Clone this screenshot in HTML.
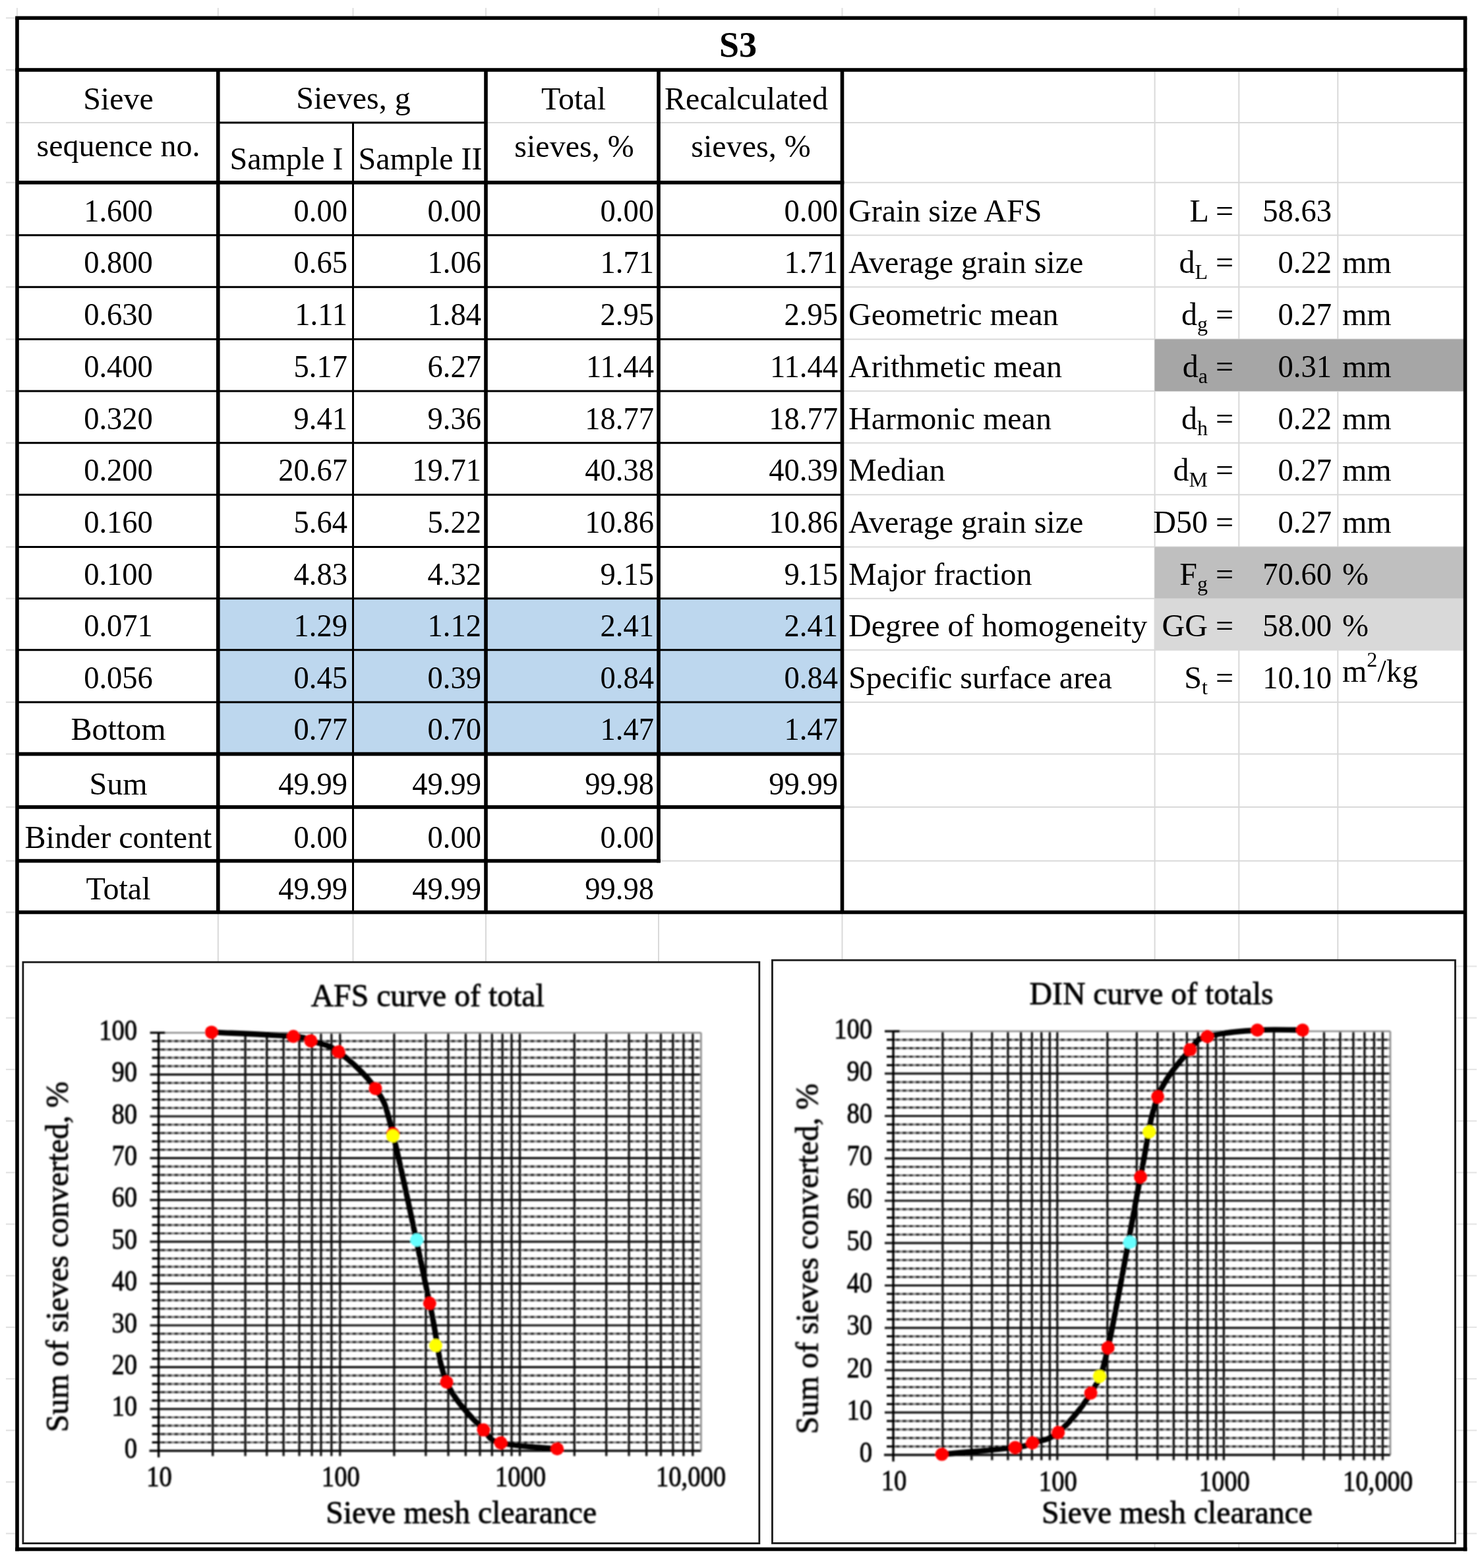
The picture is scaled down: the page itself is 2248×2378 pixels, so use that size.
<!DOCTYPE html>
<html><head><meta charset="utf-8"><title>S3 sieve analysis</title>
<style>html,body{margin:0;padding:0;background:#fff;} svg{display:block;}</style>
</head><body>
<svg width="2248" height="2378" viewBox="0 0 2248 2378">
<defs><filter id="soft" x="0" y="0" width="2248" height="2378" filterUnits="userSpaceOnUse"><feGaussianBlur stdDeviation="1.0"/></filter></defs>
<rect x="0.0" y="0.0" width="2248.0" height="2378.0" fill="#fff"/>
<rect x="1277.5" y="105.0" width="945.0" height="2.0" fill="#d9d9d9"/>
<rect x="1277.5" y="185.0" width="945.0" height="2.0" fill="#d9d9d9"/>
<rect x="1277.5" y="275.8" width="945.0" height="2.0" fill="#d9d9d9"/>
<rect x="1277.5" y="355.7" width="945.0" height="2.0" fill="#d9d9d9"/>
<rect x="1277.5" y="434.3" width="945.0" height="2.0" fill="#d9d9d9"/>
<rect x="1277.5" y="513.5" width="945.0" height="2.0" fill="#d9d9d9"/>
<rect x="1277.5" y="592.1" width="945.0" height="2.0" fill="#d9d9d9"/>
<rect x="1277.5" y="670.7" width="945.0" height="2.0" fill="#d9d9d9"/>
<rect x="1277.5" y="749.3" width="945.0" height="2.0" fill="#d9d9d9"/>
<rect x="1277.5" y="828.5" width="945.0" height="2.0" fill="#d9d9d9"/>
<rect x="1277.5" y="906.7" width="945.0" height="2.0" fill="#d9d9d9"/>
<rect x="1277.5" y="984.7" width="945.0" height="2.0" fill="#d9d9d9"/>
<rect x="1277.5" y="1063.9" width="945.0" height="2.0" fill="#d9d9d9"/>
<rect x="1277.5" y="1142.5" width="945.0" height="2.0" fill="#d9d9d9"/>
<rect x="1277.5" y="1223.0" width="945.0" height="2.0" fill="#d9d9d9"/>
<rect x="1277.5" y="1304.6" width="945.0" height="2.0" fill="#d9d9d9"/>
<rect x="1277.5" y="1382.5" width="945.0" height="2.0" fill="#d9d9d9"/>
<rect x="1750.6" y="106.0" width="2.0" height="2243.5" fill="#d9d9d9"/>
<rect x="1878.3" y="106.0" width="2.0" height="2243.5" fill="#d9d9d9"/>
<rect x="2028.3" y="106.0" width="2.0" height="2243.5" fill="#d9d9d9"/>
<rect x="329.8" y="1383.5" width="2.0" height="74.5" fill="#d9d9d9"/>
<rect x="534.5" y="1383.5" width="2.0" height="74.5" fill="#d9d9d9"/>
<rect x="736.0" y="1383.5" width="2.0" height="74.5" fill="#d9d9d9"/>
<rect x="998.0" y="1383.5" width="2.0" height="74.5" fill="#d9d9d9"/>
<rect x="1276.5" y="1383.5" width="2.0" height="74.5" fill="#d9d9d9"/>
<rect x="999.0" y="1304.6" width="278.5" height="2.0" fill="#d9d9d9"/>
<rect x="26.0" y="185.0" width="304.8" height="2.0" fill="#d9d9d9"/>
<rect x="737.0" y="185.0" width="540.5" height="2.0" fill="#d9d9d9"/>
<rect x="9.0" y="26.2" width="14.0" height="2.2" fill="#e2e2e2"/>
<rect x="9.0" y="104.9" width="14.0" height="2.2" fill="#e2e2e2"/>
<rect x="9.0" y="184.9" width="14.0" height="2.2" fill="#e2e2e2"/>
<rect x="9.0" y="275.7" width="14.0" height="2.2" fill="#e2e2e2"/>
<rect x="9.0" y="355.6" width="14.0" height="2.2" fill="#e2e2e2"/>
<rect x="9.0" y="434.2" width="14.0" height="2.2" fill="#e2e2e2"/>
<rect x="9.0" y="513.4" width="14.0" height="2.2" fill="#e2e2e2"/>
<rect x="9.0" y="592.0" width="14.0" height="2.2" fill="#e2e2e2"/>
<rect x="9.0" y="670.6" width="14.0" height="2.2" fill="#e2e2e2"/>
<rect x="9.0" y="749.2" width="14.0" height="2.2" fill="#e2e2e2"/>
<rect x="9.0" y="828.4" width="14.0" height="2.2" fill="#e2e2e2"/>
<rect x="9.0" y="906.6" width="14.0" height="2.2" fill="#e2e2e2"/>
<rect x="9.0" y="984.6" width="14.0" height="2.2" fill="#e2e2e2"/>
<rect x="9.0" y="1063.8" width="14.0" height="2.2" fill="#e2e2e2"/>
<rect x="9.0" y="1142.4" width="14.0" height="2.2" fill="#e2e2e2"/>
<rect x="9.0" y="1222.9" width="14.0" height="2.2" fill="#e2e2e2"/>
<rect x="9.0" y="1304.5" width="14.0" height="2.2" fill="#e2e2e2"/>
<rect x="9.0" y="1382.4" width="14.0" height="2.2" fill="#e2e2e2"/>
<rect x="9.0" y="1464.4" width="14.0" height="2.2" fill="#e2e2e2"/>
<rect x="9.0" y="1542.6" width="14.0" height="2.2" fill="#e2e2e2"/>
<rect x="9.0" y="1620.8" width="14.0" height="2.2" fill="#e2e2e2"/>
<rect x="9.0" y="1699.0" width="14.0" height="2.2" fill="#e2e2e2"/>
<rect x="9.0" y="1777.2" width="14.0" height="2.2" fill="#e2e2e2"/>
<rect x="9.0" y="1855.4" width="14.0" height="2.2" fill="#e2e2e2"/>
<rect x="9.0" y="1933.6" width="14.0" height="2.2" fill="#e2e2e2"/>
<rect x="9.0" y="2011.8" width="14.0" height="2.2" fill="#e2e2e2"/>
<rect x="9.0" y="2090.0" width="14.0" height="2.2" fill="#e2e2e2"/>
<rect x="9.0" y="2168.2" width="14.0" height="2.2" fill="#e2e2e2"/>
<rect x="9.0" y="2246.4" width="14.0" height="2.2" fill="#e2e2e2"/>
<rect x="9.0" y="2324.6" width="14.0" height="2.2" fill="#e2e2e2"/>
<rect x="2209.0" y="1464.4" width="31.0" height="2.2" fill="#e6e6e6"/>
<rect x="2209.0" y="1542.6" width="31.0" height="2.2" fill="#e6e6e6"/>
<rect x="2209.0" y="1620.8" width="31.0" height="2.2" fill="#e6e6e6"/>
<rect x="2209.0" y="1699.0" width="31.0" height="2.2" fill="#e6e6e6"/>
<rect x="2209.0" y="1777.2" width="31.0" height="2.2" fill="#e6e6e6"/>
<rect x="2209.0" y="1855.4" width="31.0" height="2.2" fill="#e6e6e6"/>
<rect x="2209.0" y="1933.6" width="31.0" height="2.2" fill="#e6e6e6"/>
<rect x="2209.0" y="2011.8" width="31.0" height="2.2" fill="#e6e6e6"/>
<rect x="2209.0" y="2090.0" width="31.0" height="2.2" fill="#e6e6e6"/>
<rect x="2209.0" y="2168.2" width="31.0" height="2.2" fill="#e6e6e6"/>
<rect x="2209.0" y="2246.4" width="31.0" height="2.2" fill="#e6e6e6"/>
<rect x="2209.0" y="2324.6" width="31.0" height="2.2" fill="#e6e6e6"/>
<rect x="24.9" y="12.0" width="2.2" height="12.3" fill="#e2e2e2"/>
<rect x="329.7" y="12.0" width="2.2" height="12.3" fill="#e2e2e2"/>
<rect x="534.4" y="12.0" width="2.2" height="12.3" fill="#e2e2e2"/>
<rect x="735.9" y="12.0" width="2.2" height="12.3" fill="#e2e2e2"/>
<rect x="997.9" y="12.0" width="2.2" height="12.3" fill="#e2e2e2"/>
<rect x="1276.4" y="12.0" width="2.2" height="12.3" fill="#e2e2e2"/>
<rect x="1750.5" y="12.0" width="2.2" height="12.3" fill="#e2e2e2"/>
<rect x="1878.2" y="12.0" width="2.2" height="12.3" fill="#e2e2e2"/>
<rect x="2028.2" y="12.0" width="2.2" height="12.3" fill="#e2e2e2"/>
<rect x="330.8" y="907.7" width="946.7" height="235.8" fill="#bdd7ee"/>
<rect x="1751.6" y="514.5" width="470.9" height="78.6" fill="#a6a6a6"/>
<rect x="1751.6" y="829.5" width="470.9" height="78.2" fill="#bfbfbf"/>
<rect x="1751.6" y="907.7" width="470.9" height="78.0" fill="#d9d9d9"/>
<rect x="23.2" y="24.5" width="2202.1" height="5.6" fill="#000"/>
<rect x="23.2" y="103.2" width="2202.1" height="5.6" fill="#000"/>
<rect x="23.2" y="2346.7" width="2202.1" height="5.6" fill="#000"/>
<rect x="23.2" y="27.3" width="5.6" height="2325.0" fill="#000"/>
<rect x="2219.7" y="27.3" width="5.6" height="2325.0" fill="#000"/>
<rect x="330.8" y="184.5" width="406.2" height="3.0" fill="#000"/>
<rect x="26.0" y="274.0" width="1254.3" height="5.6" fill="#000"/>
<rect x="328.0" y="106.0" width="5.6" height="1277.5" fill="#000"/>
<rect x="534.0" y="186.0" width="3.0" height="1197.5" fill="#000"/>
<rect x="734.2" y="106.0" width="5.6" height="1277.5" fill="#000"/>
<rect x="996.2" y="106.0" width="5.6" height="1202.4" fill="#000"/>
<rect x="1274.7" y="106.0" width="5.6" height="1277.5" fill="#000"/>
<rect x="26.0" y="355.2" width="1251.5" height="3.0" fill="#000"/>
<rect x="26.0" y="433.8" width="1251.5" height="3.0" fill="#000"/>
<rect x="26.0" y="513.0" width="1251.5" height="3.0" fill="#000"/>
<rect x="26.0" y="591.6" width="1251.5" height="3.0" fill="#000"/>
<rect x="26.0" y="670.2" width="1251.5" height="3.0" fill="#000"/>
<rect x="26.0" y="748.8" width="1251.5" height="3.0" fill="#000"/>
<rect x="26.0" y="828.0" width="1251.5" height="3.0" fill="#000"/>
<rect x="26.0" y="906.2" width="1251.5" height="3.0" fill="#000"/>
<rect x="26.0" y="984.2" width="1251.5" height="3.0" fill="#000"/>
<rect x="26.0" y="1063.4" width="1251.5" height="3.0" fill="#000"/>
<rect x="26.0" y="1140.7" width="1254.3" height="5.6" fill="#000"/>
<rect x="26.0" y="1221.2" width="1254.3" height="5.6" fill="#000"/>
<rect x="26.0" y="1302.8" width="975.8" height="5.6" fill="#000"/>
<rect x="26.0" y="1380.7" width="2196.5" height="5.6" fill="#000"/>
<g font-family='"Liberation Serif", "Times New Roman", serif' fill="#000">
<text x="1119.6" y="86.3" font-size="54" text-anchor="middle" font-weight="bold" >S3</text>
<text x="179.5" y="165.6" font-size="48" text-anchor="middle" font-weight="normal" >Sieve</text>
<text x="179.5" y="237.3" font-size="48" text-anchor="middle" font-weight="normal" >sequence no.</text>
<text x="536.0" y="164.5" font-size="48" text-anchor="middle" font-weight="normal" >Sieves, g</text>
<text x="434.5" y="256.6" font-size="48" text-anchor="middle" font-weight="normal" >Sample I</text>
<text x="637.5" y="256.6" font-size="48" text-anchor="middle" font-weight="normal" >Sample II</text>
<text x="870.0" y="165.6" font-size="48" text-anchor="middle" font-weight="normal" >Total</text>
<text x="871.0" y="237.5" font-size="48" text-anchor="middle" font-weight="normal" >sieves, %</text>
<text x="1132.0" y="165.6" font-size="48" text-anchor="middle" font-weight="normal" >Recalculated</text>
<text x="1139.0" y="237.5" font-size="48" text-anchor="middle" font-weight="normal" >sieves, %</text>
<text transform="translate(179.5,335.5) scale(0.97,1.0)" font-size="48" text-anchor="middle" font-weight="normal" >1.600</text>
<text transform="translate(527.0,335.5) scale(0.97,1.0)" font-size="48" text-anchor="end" font-weight="normal" >0.00</text>
<text transform="translate(730.0,335.5) scale(0.97,1.0)" font-size="48" text-anchor="end" font-weight="normal" >0.00</text>
<text transform="translate(992.0,335.5) scale(0.97,1.0)" font-size="48" text-anchor="end" font-weight="normal" >0.00</text>
<text transform="translate(1271.0,335.5) scale(0.97,1.0)" font-size="48" text-anchor="end" font-weight="normal" >0.00</text>
<text transform="translate(179.5,414.1) scale(0.97,1.0)" font-size="48" text-anchor="middle" font-weight="normal" >0.800</text>
<text transform="translate(527.0,414.1) scale(0.97,1.0)" font-size="48" text-anchor="end" font-weight="normal" >0.65</text>
<text transform="translate(730.0,414.1) scale(0.97,1.0)" font-size="48" text-anchor="end" font-weight="normal" >1.06</text>
<text transform="translate(992.0,414.1) scale(0.97,1.0)" font-size="48" text-anchor="end" font-weight="normal" >1.71</text>
<text transform="translate(1271.0,414.1) scale(0.97,1.0)" font-size="48" text-anchor="end" font-weight="normal" >1.71</text>
<text transform="translate(179.5,493.3) scale(0.97,1.0)" font-size="48" text-anchor="middle" font-weight="normal" >0.630</text>
<text transform="translate(527.0,493.3) scale(0.97,1.0)" font-size="48" text-anchor="end" font-weight="normal" >1.11</text>
<text transform="translate(730.0,493.3) scale(0.97,1.0)" font-size="48" text-anchor="end" font-weight="normal" >1.84</text>
<text transform="translate(992.0,493.3) scale(0.97,1.0)" font-size="48" text-anchor="end" font-weight="normal" >2.95</text>
<text transform="translate(1271.0,493.3) scale(0.97,1.0)" font-size="48" text-anchor="end" font-weight="normal" >2.95</text>
<text transform="translate(179.5,571.9) scale(0.97,1.0)" font-size="48" text-anchor="middle" font-weight="normal" >0.400</text>
<text transform="translate(527.0,571.9) scale(0.97,1.0)" font-size="48" text-anchor="end" font-weight="normal" >5.17</text>
<text transform="translate(730.0,571.9) scale(0.97,1.0)" font-size="48" text-anchor="end" font-weight="normal" >6.27</text>
<text transform="translate(992.0,571.9) scale(0.97,1.0)" font-size="48" text-anchor="end" font-weight="normal" >11.44</text>
<text transform="translate(1271.0,571.9) scale(0.97,1.0)" font-size="48" text-anchor="end" font-weight="normal" >11.44</text>
<text transform="translate(179.5,650.5) scale(0.97,1.0)" font-size="48" text-anchor="middle" font-weight="normal" >0.320</text>
<text transform="translate(527.0,650.5) scale(0.97,1.0)" font-size="48" text-anchor="end" font-weight="normal" >9.41</text>
<text transform="translate(730.0,650.5) scale(0.97,1.0)" font-size="48" text-anchor="end" font-weight="normal" >9.36</text>
<text transform="translate(992.0,650.5) scale(0.97,1.0)" font-size="48" text-anchor="end" font-weight="normal" >18.77</text>
<text transform="translate(1271.0,650.5) scale(0.97,1.0)" font-size="48" text-anchor="end" font-weight="normal" >18.77</text>
<text transform="translate(179.5,729.1) scale(0.97,1.0)" font-size="48" text-anchor="middle" font-weight="normal" >0.200</text>
<text transform="translate(527.0,729.1) scale(0.97,1.0)" font-size="48" text-anchor="end" font-weight="normal" >20.67</text>
<text transform="translate(730.0,729.1) scale(0.97,1.0)" font-size="48" text-anchor="end" font-weight="normal" >19.71</text>
<text transform="translate(992.0,729.1) scale(0.97,1.0)" font-size="48" text-anchor="end" font-weight="normal" >40.38</text>
<text transform="translate(1271.0,729.1) scale(0.97,1.0)" font-size="48" text-anchor="end" font-weight="normal" >40.39</text>
<text transform="translate(179.5,808.3) scale(0.97,1.0)" font-size="48" text-anchor="middle" font-weight="normal" >0.160</text>
<text transform="translate(527.0,808.3) scale(0.97,1.0)" font-size="48" text-anchor="end" font-weight="normal" >5.64</text>
<text transform="translate(730.0,808.3) scale(0.97,1.0)" font-size="48" text-anchor="end" font-weight="normal" >5.22</text>
<text transform="translate(992.0,808.3) scale(0.97,1.0)" font-size="48" text-anchor="end" font-weight="normal" >10.86</text>
<text transform="translate(1271.0,808.3) scale(0.97,1.0)" font-size="48" text-anchor="end" font-weight="normal" >10.86</text>
<text transform="translate(179.5,886.5) scale(0.97,1.0)" font-size="48" text-anchor="middle" font-weight="normal" >0.100</text>
<text transform="translate(527.0,886.5) scale(0.97,1.0)" font-size="48" text-anchor="end" font-weight="normal" >4.83</text>
<text transform="translate(730.0,886.5) scale(0.97,1.0)" font-size="48" text-anchor="end" font-weight="normal" >4.32</text>
<text transform="translate(992.0,886.5) scale(0.97,1.0)" font-size="48" text-anchor="end" font-weight="normal" >9.15</text>
<text transform="translate(1271.0,886.5) scale(0.97,1.0)" font-size="48" text-anchor="end" font-weight="normal" >9.15</text>
<text transform="translate(179.5,964.5) scale(0.97,1.0)" font-size="48" text-anchor="middle" font-weight="normal" >0.071</text>
<text transform="translate(527.0,964.5) scale(0.97,1.0)" font-size="48" text-anchor="end" font-weight="normal" >1.29</text>
<text transform="translate(730.0,964.5) scale(0.97,1.0)" font-size="48" text-anchor="end" font-weight="normal" >1.12</text>
<text transform="translate(992.0,964.5) scale(0.97,1.0)" font-size="48" text-anchor="end" font-weight="normal" >2.41</text>
<text transform="translate(1271.0,964.5) scale(0.97,1.0)" font-size="48" text-anchor="end" font-weight="normal" >2.41</text>
<text transform="translate(179.5,1043.7) scale(0.97,1.0)" font-size="48" text-anchor="middle" font-weight="normal" >0.056</text>
<text transform="translate(527.0,1043.7) scale(0.97,1.0)" font-size="48" text-anchor="end" font-weight="normal" >0.45</text>
<text transform="translate(730.0,1043.7) scale(0.97,1.0)" font-size="48" text-anchor="end" font-weight="normal" >0.39</text>
<text transform="translate(992.0,1043.7) scale(0.97,1.0)" font-size="48" text-anchor="end" font-weight="normal" >0.84</text>
<text transform="translate(1271.0,1043.7) scale(0.97,1.0)" font-size="48" text-anchor="end" font-weight="normal" >0.84</text>
<text x="179.5" y="1122.3" font-size="48" text-anchor="middle" font-weight="normal" >Bottom</text>
<text transform="translate(527.0,1122.3) scale(0.97,1.0)" font-size="48" text-anchor="end" font-weight="normal" >0.77</text>
<text transform="translate(730.0,1122.3) scale(0.97,1.0)" font-size="48" text-anchor="end" font-weight="normal" >0.70</text>
<text transform="translate(992.0,1122.3) scale(0.97,1.0)" font-size="48" text-anchor="end" font-weight="normal" >1.47</text>
<text transform="translate(1271.0,1122.3) scale(0.97,1.0)" font-size="48" text-anchor="end" font-weight="normal" >1.47</text>
<text x="179.5" y="1204.5" font-size="48" text-anchor="middle" font-weight="normal" >Sum</text>
<text transform="translate(527.0,1204.5) scale(0.97,1.0)" font-size="48" text-anchor="end" font-weight="normal" >49.99</text>
<text transform="translate(730.0,1204.5) scale(0.97,1.0)" font-size="48" text-anchor="end" font-weight="normal" >49.99</text>
<text transform="translate(992.0,1204.5) scale(0.97,1.0)" font-size="48" text-anchor="end" font-weight="normal" >99.98</text>
<text transform="translate(1271.0,1204.5) scale(0.97,1.0)" font-size="48" text-anchor="end" font-weight="normal" >99.99</text>
<text x="179.5" y="1286.1" font-size="48" text-anchor="middle" font-weight="normal" >Binder content</text>
<text transform="translate(527.0,1286.1) scale(0.97,1.0)" font-size="48" text-anchor="end" font-weight="normal" >0.00</text>
<text transform="translate(730.0,1286.1) scale(0.97,1.0)" font-size="48" text-anchor="end" font-weight="normal" >0.00</text>
<text transform="translate(992.0,1286.1) scale(0.97,1.0)" font-size="48" text-anchor="end" font-weight="normal" >0.00</text>
<text x="179.5" y="1364.0" font-size="48" text-anchor="middle" font-weight="normal" >Total</text>
<text transform="translate(527.0,1364.0) scale(0.97,1.0)" font-size="48" text-anchor="end" font-weight="normal" >49.99</text>
<text transform="translate(730.0,1364.0) scale(0.97,1.0)" font-size="48" text-anchor="end" font-weight="normal" >49.99</text>
<text transform="translate(992.0,1364.0) scale(0.97,1.0)" font-size="48" text-anchor="end" font-weight="normal" >99.98</text>
<text x="1287.0" y="335.5" font-size="48" text-anchor="start" font-weight="normal" >Grain size AFS</text>
<text x="1871.0" y="335.5" font-size="48" text-anchor="end" font-weight="normal" >L =</text>
<text transform="translate(2020.0,335.5) scale(0.97,1.0)" font-size="48" text-anchor="end" font-weight="normal" >58.63</text>
<text x="1287.0" y="414.1" font-size="48" text-anchor="start" font-weight="normal" >Average grain size</text>
<text x="1871.0" y="414.1" font-size="48" text-anchor="end" font-weight="normal" >d<tspan font-size="32" dy="9">L</tspan><tspan dy="-9"> =</tspan></text>
<text transform="translate(2020.0,414.1) scale(0.97,1.0)" font-size="48" text-anchor="end" font-weight="normal" >0.22</text>
<text x="2036.0" y="414.1" font-size="48" text-anchor="start" font-weight="normal" >mm</text>
<text x="1287.0" y="493.3" font-size="48" text-anchor="start" font-weight="normal" >Geometric mean</text>
<text x="1871.0" y="493.3" font-size="48" text-anchor="end" font-weight="normal" >d<tspan font-size="32" dy="9">g</tspan><tspan dy="-9"> =</tspan></text>
<text transform="translate(2020.0,493.3) scale(0.97,1.0)" font-size="48" text-anchor="end" font-weight="normal" >0.27</text>
<text x="2036.0" y="493.3" font-size="48" text-anchor="start" font-weight="normal" >mm</text>
<text x="1287.0" y="571.9" font-size="48" text-anchor="start" font-weight="normal" >Arithmetic mean</text>
<text x="1871.0" y="571.9" font-size="48" text-anchor="end" font-weight="normal" >d<tspan font-size="32" dy="9">a</tspan><tspan dy="-9"> =</tspan></text>
<text transform="translate(2020.0,571.9) scale(0.97,1.0)" font-size="48" text-anchor="end" font-weight="normal" >0.31</text>
<text x="2036.0" y="571.9" font-size="48" text-anchor="start" font-weight="normal" >mm</text>
<text x="1287.0" y="650.5" font-size="48" text-anchor="start" font-weight="normal" >Harmonic mean</text>
<text x="1871.0" y="650.5" font-size="48" text-anchor="end" font-weight="normal" >d<tspan font-size="32" dy="9">h</tspan><tspan dy="-9"> =</tspan></text>
<text transform="translate(2020.0,650.5) scale(0.97,1.0)" font-size="48" text-anchor="end" font-weight="normal" >0.22</text>
<text x="2036.0" y="650.5" font-size="48" text-anchor="start" font-weight="normal" >mm</text>
<text x="1287.0" y="729.1" font-size="48" text-anchor="start" font-weight="normal" >Median</text>
<text x="1871.0" y="729.1" font-size="48" text-anchor="end" font-weight="normal" >d<tspan font-size="32" dy="9">M</tspan><tspan dy="-9"> =</tspan></text>
<text transform="translate(2020.0,729.1) scale(0.97,1.0)" font-size="48" text-anchor="end" font-weight="normal" >0.27</text>
<text x="2036.0" y="729.1" font-size="48" text-anchor="start" font-weight="normal" >mm</text>
<text x="1287.0" y="808.3" font-size="48" text-anchor="start" font-weight="normal" >Average grain size</text>
<text x="1871.0" y="808.3" font-size="48" text-anchor="end" font-weight="normal" >D50 =</text>
<text transform="translate(2020.0,808.3) scale(0.97,1.0)" font-size="48" text-anchor="end" font-weight="normal" >0.27</text>
<text x="2036.0" y="808.3" font-size="48" text-anchor="start" font-weight="normal" >mm</text>
<text x="1287.0" y="886.5" font-size="48" text-anchor="start" font-weight="normal" >Major fraction</text>
<text x="1871.0" y="886.5" font-size="48" text-anchor="end" font-weight="normal" >F<tspan font-size="32" dy="9">g</tspan><tspan dy="-9"> =</tspan></text>
<text transform="translate(2020.0,886.5) scale(0.97,1.0)" font-size="48" text-anchor="end" font-weight="normal" >70.60</text>
<text x="2036.0" y="886.5" font-size="48" text-anchor="start" font-weight="normal" >%</text>
<text x="1287.0" y="964.5" font-size="48" text-anchor="start" font-weight="normal" >Degree of homogeneity</text>
<text x="1871.0" y="964.5" font-size="48" text-anchor="end" font-weight="normal" >GG =</text>
<text transform="translate(2020.0,964.5) scale(0.97,1.0)" font-size="48" text-anchor="end" font-weight="normal" >58.00</text>
<text x="2036.0" y="964.5" font-size="48" text-anchor="start" font-weight="normal" >%</text>
<text x="1287.0" y="1043.7" font-size="48" text-anchor="start" font-weight="normal" >Specific surface area</text>
<text x="1871.0" y="1043.7" font-size="48" text-anchor="end" font-weight="normal" >S<tspan font-size="32" dy="9">t</tspan><tspan dy="-9"> =</tspan></text>
<text transform="translate(2020.0,1043.7) scale(0.97,1.0)" font-size="48" text-anchor="end" font-weight="normal" >10.10</text>
<text x="2036.0" y="1033.9" font-size="48" text-anchor="start" font-weight="normal" >m<tspan font-size="32" dy="-23">2</tspan><tspan dy="23">/kg</tspan></text>
</g>
<rect x="34.9" y="1459.2" width="1116.8999999999999" height="881.3999999999999" fill="#fff" stroke="#1a1a1a" stroke-width="2.8"/>
<g filter="url(#soft)">
<line x1="242.6" y1="2187.5" x2="1063.4" y2="2187.5" stroke="#8a8a8a" stroke-width="3.2"/>
<line x1="244.6" y1="2187.5" x2="1063.4" y2="2187.5" stroke="#2a2a2a" stroke-width="3.2" stroke-dasharray="5.6 4.4"/>
<line x1="230.6" y1="2187.5" x2="243.6" y2="2187.5" stroke="#000" stroke-width="3.2"/>
<line x1="242.6" y1="2174.8" x2="1063.4" y2="2174.8" stroke="#8a8a8a" stroke-width="3.2"/>
<line x1="244.6" y1="2174.8" x2="1063.4" y2="2174.8" stroke="#2a2a2a" stroke-width="3.2" stroke-dasharray="5.6 4.4"/>
<line x1="230.6" y1="2174.8" x2="243.6" y2="2174.8" stroke="#000" stroke-width="3.2"/>
<line x1="242.6" y1="2162.2" x2="1063.4" y2="2162.2" stroke="#8a8a8a" stroke-width="3.2"/>
<line x1="244.6" y1="2162.2" x2="1063.4" y2="2162.2" stroke="#2a2a2a" stroke-width="3.2" stroke-dasharray="5.6 4.4"/>
<line x1="230.6" y1="2162.2" x2="243.6" y2="2162.2" stroke="#000" stroke-width="3.2"/>
<line x1="242.6" y1="2149.5" x2="1063.4" y2="2149.5" stroke="#8a8a8a" stroke-width="3.2"/>
<line x1="244.6" y1="2149.5" x2="1063.4" y2="2149.5" stroke="#2a2a2a" stroke-width="3.2" stroke-dasharray="5.6 4.4"/>
<line x1="230.6" y1="2149.5" x2="243.6" y2="2149.5" stroke="#000" stroke-width="3.2"/>
<line x1="242.6" y1="2124.1" x2="1063.4" y2="2124.1" stroke="#8a8a8a" stroke-width="3.2"/>
<line x1="244.6" y1="2124.1" x2="1063.4" y2="2124.1" stroke="#2a2a2a" stroke-width="3.2" stroke-dasharray="5.6 4.4"/>
<line x1="230.6" y1="2124.1" x2="243.6" y2="2124.1" stroke="#000" stroke-width="3.2"/>
<line x1="242.6" y1="2111.4" x2="1063.4" y2="2111.4" stroke="#8a8a8a" stroke-width="3.2"/>
<line x1="244.6" y1="2111.4" x2="1063.4" y2="2111.4" stroke="#2a2a2a" stroke-width="3.2" stroke-dasharray="5.6 4.4"/>
<line x1="230.6" y1="2111.4" x2="243.6" y2="2111.4" stroke="#000" stroke-width="3.2"/>
<line x1="242.6" y1="2098.8" x2="1063.4" y2="2098.8" stroke="#8a8a8a" stroke-width="3.2"/>
<line x1="244.6" y1="2098.8" x2="1063.4" y2="2098.8" stroke="#2a2a2a" stroke-width="3.2" stroke-dasharray="5.6 4.4"/>
<line x1="230.6" y1="2098.8" x2="243.6" y2="2098.8" stroke="#000" stroke-width="3.2"/>
<line x1="242.6" y1="2086.1" x2="1063.4" y2="2086.1" stroke="#8a8a8a" stroke-width="3.2"/>
<line x1="244.6" y1="2086.1" x2="1063.4" y2="2086.1" stroke="#2a2a2a" stroke-width="3.2" stroke-dasharray="5.6 4.4"/>
<line x1="230.6" y1="2086.1" x2="243.6" y2="2086.1" stroke="#000" stroke-width="3.2"/>
<line x1="242.6" y1="2060.7" x2="1063.4" y2="2060.7" stroke="#8a8a8a" stroke-width="3.2"/>
<line x1="244.6" y1="2060.7" x2="1063.4" y2="2060.7" stroke="#2a2a2a" stroke-width="3.2" stroke-dasharray="5.6 4.4"/>
<line x1="230.6" y1="2060.7" x2="243.6" y2="2060.7" stroke="#000" stroke-width="3.2"/>
<line x1="242.6" y1="2048.0" x2="1063.4" y2="2048.0" stroke="#8a8a8a" stroke-width="3.2"/>
<line x1="244.6" y1="2048.0" x2="1063.4" y2="2048.0" stroke="#2a2a2a" stroke-width="3.2" stroke-dasharray="5.6 4.4"/>
<line x1="230.6" y1="2048.0" x2="243.6" y2="2048.0" stroke="#000" stroke-width="3.2"/>
<line x1="242.6" y1="2035.4" x2="1063.4" y2="2035.4" stroke="#8a8a8a" stroke-width="3.2"/>
<line x1="244.6" y1="2035.4" x2="1063.4" y2="2035.4" stroke="#2a2a2a" stroke-width="3.2" stroke-dasharray="5.6 4.4"/>
<line x1="230.6" y1="2035.4" x2="243.6" y2="2035.4" stroke="#000" stroke-width="3.2"/>
<line x1="242.6" y1="2022.7" x2="1063.4" y2="2022.7" stroke="#8a8a8a" stroke-width="3.2"/>
<line x1="244.6" y1="2022.7" x2="1063.4" y2="2022.7" stroke="#2a2a2a" stroke-width="3.2" stroke-dasharray="5.6 4.4"/>
<line x1="230.6" y1="2022.7" x2="243.6" y2="2022.7" stroke="#000" stroke-width="3.2"/>
<line x1="242.6" y1="1997.3" x2="1063.4" y2="1997.3" stroke="#8a8a8a" stroke-width="3.2"/>
<line x1="244.6" y1="1997.3" x2="1063.4" y2="1997.3" stroke="#2a2a2a" stroke-width="3.2" stroke-dasharray="5.6 4.4"/>
<line x1="230.6" y1="1997.3" x2="243.6" y2="1997.3" stroke="#000" stroke-width="3.2"/>
<line x1="242.6" y1="1984.6" x2="1063.4" y2="1984.6" stroke="#8a8a8a" stroke-width="3.2"/>
<line x1="244.6" y1="1984.6" x2="1063.4" y2="1984.6" stroke="#2a2a2a" stroke-width="3.2" stroke-dasharray="5.6 4.4"/>
<line x1="230.6" y1="1984.6" x2="243.6" y2="1984.6" stroke="#000" stroke-width="3.2"/>
<line x1="242.6" y1="1972.0" x2="1063.4" y2="1972.0" stroke="#8a8a8a" stroke-width="3.2"/>
<line x1="244.6" y1="1972.0" x2="1063.4" y2="1972.0" stroke="#2a2a2a" stroke-width="3.2" stroke-dasharray="5.6 4.4"/>
<line x1="230.6" y1="1972.0" x2="243.6" y2="1972.0" stroke="#000" stroke-width="3.2"/>
<line x1="242.6" y1="1959.3" x2="1063.4" y2="1959.3" stroke="#8a8a8a" stroke-width="3.2"/>
<line x1="244.6" y1="1959.3" x2="1063.4" y2="1959.3" stroke="#2a2a2a" stroke-width="3.2" stroke-dasharray="5.6 4.4"/>
<line x1="230.6" y1="1959.3" x2="243.6" y2="1959.3" stroke="#000" stroke-width="3.2"/>
<line x1="242.6" y1="1933.9" x2="1063.4" y2="1933.9" stroke="#8a8a8a" stroke-width="3.2"/>
<line x1="244.6" y1="1933.9" x2="1063.4" y2="1933.9" stroke="#2a2a2a" stroke-width="3.2" stroke-dasharray="5.6 4.4"/>
<line x1="230.6" y1="1933.9" x2="243.6" y2="1933.9" stroke="#000" stroke-width="3.2"/>
<line x1="242.6" y1="1921.2" x2="1063.4" y2="1921.2" stroke="#8a8a8a" stroke-width="3.2"/>
<line x1="244.6" y1="1921.2" x2="1063.4" y2="1921.2" stroke="#2a2a2a" stroke-width="3.2" stroke-dasharray="5.6 4.4"/>
<line x1="230.6" y1="1921.2" x2="243.6" y2="1921.2" stroke="#000" stroke-width="3.2"/>
<line x1="242.6" y1="1908.6" x2="1063.4" y2="1908.6" stroke="#8a8a8a" stroke-width="3.2"/>
<line x1="244.6" y1="1908.6" x2="1063.4" y2="1908.6" stroke="#2a2a2a" stroke-width="3.2" stroke-dasharray="5.6 4.4"/>
<line x1="230.6" y1="1908.6" x2="243.6" y2="1908.6" stroke="#000" stroke-width="3.2"/>
<line x1="242.6" y1="1895.9" x2="1063.4" y2="1895.9" stroke="#8a8a8a" stroke-width="3.2"/>
<line x1="244.6" y1="1895.9" x2="1063.4" y2="1895.9" stroke="#2a2a2a" stroke-width="3.2" stroke-dasharray="5.6 4.4"/>
<line x1="230.6" y1="1895.9" x2="243.6" y2="1895.9" stroke="#000" stroke-width="3.2"/>
<line x1="242.6" y1="1870.5" x2="1063.4" y2="1870.5" stroke="#8a8a8a" stroke-width="3.2"/>
<line x1="244.6" y1="1870.5" x2="1063.4" y2="1870.5" stroke="#2a2a2a" stroke-width="3.2" stroke-dasharray="5.6 4.4"/>
<line x1="230.6" y1="1870.5" x2="243.6" y2="1870.5" stroke="#000" stroke-width="3.2"/>
<line x1="242.6" y1="1857.8" x2="1063.4" y2="1857.8" stroke="#8a8a8a" stroke-width="3.2"/>
<line x1="244.6" y1="1857.8" x2="1063.4" y2="1857.8" stroke="#2a2a2a" stroke-width="3.2" stroke-dasharray="5.6 4.4"/>
<line x1="230.6" y1="1857.8" x2="243.6" y2="1857.8" stroke="#000" stroke-width="3.2"/>
<line x1="242.6" y1="1845.2" x2="1063.4" y2="1845.2" stroke="#8a8a8a" stroke-width="3.2"/>
<line x1="244.6" y1="1845.2" x2="1063.4" y2="1845.2" stroke="#2a2a2a" stroke-width="3.2" stroke-dasharray="5.6 4.4"/>
<line x1="230.6" y1="1845.2" x2="243.6" y2="1845.2" stroke="#000" stroke-width="3.2"/>
<line x1="242.6" y1="1832.5" x2="1063.4" y2="1832.5" stroke="#8a8a8a" stroke-width="3.2"/>
<line x1="244.6" y1="1832.5" x2="1063.4" y2="1832.5" stroke="#2a2a2a" stroke-width="3.2" stroke-dasharray="5.6 4.4"/>
<line x1="230.6" y1="1832.5" x2="243.6" y2="1832.5" stroke="#000" stroke-width="3.2"/>
<line x1="242.6" y1="1807.1" x2="1063.4" y2="1807.1" stroke="#8a8a8a" stroke-width="3.2"/>
<line x1="244.6" y1="1807.1" x2="1063.4" y2="1807.1" stroke="#2a2a2a" stroke-width="3.2" stroke-dasharray="5.6 4.4"/>
<line x1="230.6" y1="1807.1" x2="243.6" y2="1807.1" stroke="#000" stroke-width="3.2"/>
<line x1="242.6" y1="1794.4" x2="1063.4" y2="1794.4" stroke="#8a8a8a" stroke-width="3.2"/>
<line x1="244.6" y1="1794.4" x2="1063.4" y2="1794.4" stroke="#2a2a2a" stroke-width="3.2" stroke-dasharray="5.6 4.4"/>
<line x1="230.6" y1="1794.4" x2="243.6" y2="1794.4" stroke="#000" stroke-width="3.2"/>
<line x1="242.6" y1="1781.8" x2="1063.4" y2="1781.8" stroke="#8a8a8a" stroke-width="3.2"/>
<line x1="244.6" y1="1781.8" x2="1063.4" y2="1781.8" stroke="#2a2a2a" stroke-width="3.2" stroke-dasharray="5.6 4.4"/>
<line x1="230.6" y1="1781.8" x2="243.6" y2="1781.8" stroke="#000" stroke-width="3.2"/>
<line x1="242.6" y1="1769.1" x2="1063.4" y2="1769.1" stroke="#8a8a8a" stroke-width="3.2"/>
<line x1="244.6" y1="1769.1" x2="1063.4" y2="1769.1" stroke="#2a2a2a" stroke-width="3.2" stroke-dasharray="5.6 4.4"/>
<line x1="230.6" y1="1769.1" x2="243.6" y2="1769.1" stroke="#000" stroke-width="3.2"/>
<line x1="242.6" y1="1743.7" x2="1063.4" y2="1743.7" stroke="#8a8a8a" stroke-width="3.2"/>
<line x1="244.6" y1="1743.7" x2="1063.4" y2="1743.7" stroke="#2a2a2a" stroke-width="3.2" stroke-dasharray="5.6 4.4"/>
<line x1="230.6" y1="1743.7" x2="243.6" y2="1743.7" stroke="#000" stroke-width="3.2"/>
<line x1="242.6" y1="1731.0" x2="1063.4" y2="1731.0" stroke="#8a8a8a" stroke-width="3.2"/>
<line x1="244.6" y1="1731.0" x2="1063.4" y2="1731.0" stroke="#2a2a2a" stroke-width="3.2" stroke-dasharray="5.6 4.4"/>
<line x1="230.6" y1="1731.0" x2="243.6" y2="1731.0" stroke="#000" stroke-width="3.2"/>
<line x1="242.6" y1="1718.4" x2="1063.4" y2="1718.4" stroke="#8a8a8a" stroke-width="3.2"/>
<line x1="244.6" y1="1718.4" x2="1063.4" y2="1718.4" stroke="#2a2a2a" stroke-width="3.2" stroke-dasharray="5.6 4.4"/>
<line x1="230.6" y1="1718.4" x2="243.6" y2="1718.4" stroke="#000" stroke-width="3.2"/>
<line x1="242.6" y1="1705.7" x2="1063.4" y2="1705.7" stroke="#8a8a8a" stroke-width="3.2"/>
<line x1="244.6" y1="1705.7" x2="1063.4" y2="1705.7" stroke="#2a2a2a" stroke-width="3.2" stroke-dasharray="5.6 4.4"/>
<line x1="230.6" y1="1705.7" x2="243.6" y2="1705.7" stroke="#000" stroke-width="3.2"/>
<line x1="242.6" y1="1680.3" x2="1063.4" y2="1680.3" stroke="#8a8a8a" stroke-width="3.2"/>
<line x1="244.6" y1="1680.3" x2="1063.4" y2="1680.3" stroke="#2a2a2a" stroke-width="3.2" stroke-dasharray="5.6 4.4"/>
<line x1="230.6" y1="1680.3" x2="243.6" y2="1680.3" stroke="#000" stroke-width="3.2"/>
<line x1="242.6" y1="1667.6" x2="1063.4" y2="1667.6" stroke="#8a8a8a" stroke-width="3.2"/>
<line x1="244.6" y1="1667.6" x2="1063.4" y2="1667.6" stroke="#2a2a2a" stroke-width="3.2" stroke-dasharray="5.6 4.4"/>
<line x1="230.6" y1="1667.6" x2="243.6" y2="1667.6" stroke="#000" stroke-width="3.2"/>
<line x1="242.6" y1="1655.0" x2="1063.4" y2="1655.0" stroke="#8a8a8a" stroke-width="3.2"/>
<line x1="244.6" y1="1655.0" x2="1063.4" y2="1655.0" stroke="#2a2a2a" stroke-width="3.2" stroke-dasharray="5.6 4.4"/>
<line x1="230.6" y1="1655.0" x2="243.6" y2="1655.0" stroke="#000" stroke-width="3.2"/>
<line x1="242.6" y1="1642.3" x2="1063.4" y2="1642.3" stroke="#8a8a8a" stroke-width="3.2"/>
<line x1="244.6" y1="1642.3" x2="1063.4" y2="1642.3" stroke="#2a2a2a" stroke-width="3.2" stroke-dasharray="5.6 4.4"/>
<line x1="230.6" y1="1642.3" x2="243.6" y2="1642.3" stroke="#000" stroke-width="3.2"/>
<line x1="242.6" y1="1616.9" x2="1063.4" y2="1616.9" stroke="#8a8a8a" stroke-width="3.2"/>
<line x1="244.6" y1="1616.9" x2="1063.4" y2="1616.9" stroke="#2a2a2a" stroke-width="3.2" stroke-dasharray="5.6 4.4"/>
<line x1="230.6" y1="1616.9" x2="243.6" y2="1616.9" stroke="#000" stroke-width="3.2"/>
<line x1="242.6" y1="1604.2" x2="1063.4" y2="1604.2" stroke="#8a8a8a" stroke-width="3.2"/>
<line x1="244.6" y1="1604.2" x2="1063.4" y2="1604.2" stroke="#2a2a2a" stroke-width="3.2" stroke-dasharray="5.6 4.4"/>
<line x1="230.6" y1="1604.2" x2="243.6" y2="1604.2" stroke="#000" stroke-width="3.2"/>
<line x1="242.6" y1="1591.6" x2="1063.4" y2="1591.6" stroke="#8a8a8a" stroke-width="3.2"/>
<line x1="244.6" y1="1591.6" x2="1063.4" y2="1591.6" stroke="#2a2a2a" stroke-width="3.2" stroke-dasharray="5.6 4.4"/>
<line x1="230.6" y1="1591.6" x2="243.6" y2="1591.6" stroke="#000" stroke-width="3.2"/>
<line x1="242.6" y1="1578.9" x2="1063.4" y2="1578.9" stroke="#8a8a8a" stroke-width="3.2"/>
<line x1="244.6" y1="1578.9" x2="1063.4" y2="1578.9" stroke="#2a2a2a" stroke-width="3.2" stroke-dasharray="5.6 4.4"/>
<line x1="230.6" y1="1578.9" x2="243.6" y2="1578.9" stroke="#000" stroke-width="3.2"/>
<line x1="322.7" y1="1566.2" x2="322.7" y2="2208.2" stroke="#111" stroke-width="3.3"/>
<line x1="372.1" y1="1566.2" x2="372.1" y2="2208.2" stroke="#111" stroke-width="3.3"/>
<line x1="404.7" y1="1566.2" x2="404.7" y2="2208.2" stroke="#111" stroke-width="3.3"/>
<line x1="430.1" y1="1566.2" x2="430.1" y2="2208.2" stroke="#111" stroke-width="3.3"/>
<line x1="454.0" y1="1566.2" x2="454.0" y2="2208.2" stroke="#111" stroke-width="3.3"/>
<line x1="473.1" y1="1566.2" x2="473.1" y2="2208.2" stroke="#111" stroke-width="3.3"/>
<line x1="486.9" y1="1566.2" x2="486.9" y2="2208.2" stroke="#111" stroke-width="3.3"/>
<line x1="502.8" y1="1566.2" x2="502.8" y2="2208.2" stroke="#111" stroke-width="3.3"/>
<line x1="515.8" y1="1566.2" x2="515.8" y2="2208.2" stroke="#111" stroke-width="3.3"/>
<line x1="597.9" y1="1566.2" x2="597.9" y2="2208.2" stroke="#111" stroke-width="3.3"/>
<line x1="645.9" y1="1566.2" x2="645.9" y2="2208.2" stroke="#111" stroke-width="3.3"/>
<line x1="680.0" y1="1566.2" x2="680.0" y2="2208.2" stroke="#111" stroke-width="3.3"/>
<line x1="706.4" y1="1566.2" x2="706.4" y2="2208.2" stroke="#111" stroke-width="3.3"/>
<line x1="728.0" y1="1566.2" x2="728.0" y2="2208.2" stroke="#111" stroke-width="3.3"/>
<line x1="746.3" y1="1566.2" x2="746.3" y2="2208.2" stroke="#111" stroke-width="3.3"/>
<line x1="762.1" y1="1566.2" x2="762.1" y2="2208.2" stroke="#111" stroke-width="3.3"/>
<line x1="776.0" y1="1566.2" x2="776.0" y2="2208.2" stroke="#111" stroke-width="3.3"/>
<line x1="788.5" y1="1566.2" x2="788.5" y2="2208.2" stroke="#111" stroke-width="3.3"/>
<line x1="871.3" y1="1566.2" x2="871.3" y2="2208.2" stroke="#111" stroke-width="3.3"/>
<line x1="919.7" y1="1566.2" x2="919.7" y2="2208.2" stroke="#111" stroke-width="3.3"/>
<line x1="954.0" y1="1566.2" x2="954.0" y2="2208.2" stroke="#111" stroke-width="3.3"/>
<line x1="980.6" y1="1566.2" x2="980.6" y2="2208.2" stroke="#111" stroke-width="3.3"/>
<line x1="1002.4" y1="1566.2" x2="1002.4" y2="2208.2" stroke="#111" stroke-width="3.3"/>
<line x1="1020.8" y1="1566.2" x2="1020.8" y2="2208.2" stroke="#111" stroke-width="3.3"/>
<line x1="1036.8" y1="1566.2" x2="1036.8" y2="2208.2" stroke="#111" stroke-width="3.3"/>
<line x1="1050.8" y1="1566.2" x2="1050.8" y2="2208.2" stroke="#111" stroke-width="3.3"/>
<line x1="227.6" y1="2136.8" x2="1063.4" y2="2136.8" stroke="#111" stroke-width="3.2"/>
<line x1="227.6" y1="2073.4" x2="1063.4" y2="2073.4" stroke="#111" stroke-width="3.2"/>
<line x1="227.6" y1="2010.0" x2="1063.4" y2="2010.0" stroke="#111" stroke-width="3.2"/>
<line x1="227.6" y1="1946.6" x2="1063.4" y2="1946.6" stroke="#111" stroke-width="3.2"/>
<line x1="227.6" y1="1883.2" x2="1063.4" y2="1883.2" stroke="#111" stroke-width="3.2"/>
<line x1="227.6" y1="1819.8" x2="1063.4" y2="1819.8" stroke="#111" stroke-width="3.2"/>
<line x1="227.6" y1="1756.4" x2="1063.4" y2="1756.4" stroke="#111" stroke-width="3.2"/>
<line x1="227.6" y1="1693.0" x2="1063.4" y2="1693.0" stroke="#111" stroke-width="3.2"/>
<line x1="227.6" y1="1629.6" x2="1063.4" y2="1629.6" stroke="#111" stroke-width="3.2"/>
<line x1="240.6" y1="1566.2" x2="1063.4" y2="1566.2" stroke="#8c8c8c" stroke-width="2.6"/>
<line x1="1063.4" y1="1566.2" x2="1063.4" y2="2200.2" stroke="#8c8c8c" stroke-width="2.6"/>
<line x1="227.6" y1="1566.2" x2="250.6" y2="1566.2" stroke="#000" stroke-width="3.2"/>
<line x1="226.6" y1="2200.2" x2="1063.4" y2="2200.2" stroke="#111" stroke-width="3.4"/>
<line x1="240.6" y1="1566.2" x2="240.6" y2="2210.2" stroke="#000" stroke-width="3.4"/>
<path d="M320.8,1565.4 C341.5,1566.5 419.9,1569.5 445.0,1571.7 C470.1,1573.9 459.8,1574.5 471.3,1578.4 C482.8,1582.3 497.4,1583.2 513.8,1595.3 C530.2,1607.4 555.8,1630.2 569.5,1650.9 C583.2,1671.6 582.3,1665.2 596.0,1719.5 C609.7,1773.8 638.2,1913.8 651.8,1976.6 C665.4,2039.3 663.9,2064.0 677.5,2096.0 C691.1,2128.0 719.7,2153.2 733.4,2168.6 C747.1,2184.0 741.1,2183.4 759.7,2188.2 C778.3,2193.0 831.0,2195.8 845.2,2197.3" fill="none" stroke="#000" stroke-width="8.4" stroke-linejoin="round" stroke-linecap="round"/>
<circle cx="320.8" cy="1565.4" r="10" fill="#ff0000"/>
<circle cx="445.0" cy="1571.7" r="10" fill="#ff0000"/>
<circle cx="471.3" cy="1578.4" r="10" fill="#ff0000"/>
<circle cx="513.8" cy="1595.3" r="10" fill="#ff0000"/>
<circle cx="569.5" cy="1650.9" r="10" fill="#ff0000"/>
<circle cx="596.0" cy="1719.5" r="10" fill="#ff0000"/>
<circle cx="651.8" cy="1976.6" r="10" fill="#ff0000"/>
<circle cx="677.5" cy="2096.0" r="10" fill="#ff0000"/>
<circle cx="733.4" cy="2168.6" r="10" fill="#ff0000"/>
<circle cx="759.7" cy="2188.2" r="10" fill="#ff0000"/>
<circle cx="845.2" cy="2197.3" r="10" fill="#ff0000"/>
<circle cx="595.9" cy="1722.7" r="10" fill="#ffff00"/>
<circle cx="660.9" cy="2040.6" r="10" fill="#ffff00"/>
<circle cx="632.2" cy="1880.5" r="10" fill="#66ffff"/>
<g font-family='"Liberation Serif", "Times New Roman", serif' fill="#000" stroke="#000" stroke-width="0.8">
<text transform="translate(208.0,2210.7) scale(0.965,1.09)" font-size="40" text-anchor="end" font-weight="normal" >0</text>
<text transform="translate(208.0,2147.3) scale(0.965,1.09)" font-size="40" text-anchor="end" font-weight="normal" >10</text>
<text transform="translate(208.0,2083.9) scale(0.965,1.09)" font-size="40" text-anchor="end" font-weight="normal" >20</text>
<text transform="translate(208.0,2020.5) scale(0.965,1.09)" font-size="40" text-anchor="end" font-weight="normal" >30</text>
<text transform="translate(208.0,1957.1) scale(0.965,1.09)" font-size="40" text-anchor="end" font-weight="normal" >40</text>
<text transform="translate(208.0,1893.7) scale(0.965,1.09)" font-size="40" text-anchor="end" font-weight="normal" >50</text>
<text transform="translate(208.0,1830.3) scale(0.965,1.09)" font-size="40" text-anchor="end" font-weight="normal" >60</text>
<text transform="translate(208.0,1766.9) scale(0.965,1.09)" font-size="40" text-anchor="end" font-weight="normal" >70</text>
<text transform="translate(208.0,1703.5) scale(0.965,1.09)" font-size="40" text-anchor="end" font-weight="normal" >80</text>
<text transform="translate(208.0,1640.1) scale(0.965,1.09)" font-size="40" text-anchor="end" font-weight="normal" >90</text>
<text transform="translate(208.0,1576.7) scale(0.965,1.09)" font-size="40" text-anchor="end" font-weight="normal" >100</text>
<text transform="translate(241.6,2254.2) scale(0.965,1.09)" font-size="40" text-anchor="middle" font-weight="normal" >10</text>
<text transform="translate(516.8,2254.2) scale(0.965,1.09)" font-size="40" text-anchor="middle" font-weight="normal" >100</text>
<text transform="translate(789.5,2254.2) scale(0.965,1.09)" font-size="40" text-anchor="middle" font-weight="normal" >1000</text>
<text transform="translate(1048.0,2254.2) scale(0.965,1.09)" font-size="40" text-anchor="middle" font-weight="normal" >10,000</text>
<text transform="translate(648.7,1525.5) scale(0.995,1.0)" font-size="48" text-anchor="middle" font-weight="normal" >AFS curve of total</text>
<text transform="translate(905.2,2309.5) scale(0.995,1.0)" font-size="48" text-anchor="end" font-weight="normal" >Sieve mesh clearance</text>
<text x="0" y="0" font-size="48" text-anchor="middle" transform="translate(103,1906) rotate(-90) scale(0.995,1.0)">Sum of sieves converted, %</text>
</g>
</g>
<rect x="1171.4" y="1456.2" width="1036.0" height="884.2" fill="#fff" stroke="#1a1a1a" stroke-width="2.8"/>
<g filter="url(#soft)">
<line x1="1357.0" y1="2193.7" x2="2108.9" y2="2193.7" stroke="#8a8a8a" stroke-width="3.2"/>
<line x1="1359.0" y1="2193.7" x2="2108.9" y2="2193.7" stroke="#2a2a2a" stroke-width="3.2" stroke-dasharray="5.6 4.4"/>
<line x1="1345.0" y1="2193.7" x2="1358.0" y2="2193.7" stroke="#000" stroke-width="3.2"/>
<line x1="1357.0" y1="2180.8" x2="2108.9" y2="2180.8" stroke="#8a8a8a" stroke-width="3.2"/>
<line x1="1359.0" y1="2180.8" x2="2108.9" y2="2180.8" stroke="#2a2a2a" stroke-width="3.2" stroke-dasharray="5.6 4.4"/>
<line x1="1345.0" y1="2180.8" x2="1358.0" y2="2180.8" stroke="#000" stroke-width="3.2"/>
<line x1="1357.0" y1="2167.9" x2="2108.9" y2="2167.9" stroke="#8a8a8a" stroke-width="3.2"/>
<line x1="1359.0" y1="2167.9" x2="2108.9" y2="2167.9" stroke="#2a2a2a" stroke-width="3.2" stroke-dasharray="5.6 4.4"/>
<line x1="1345.0" y1="2167.9" x2="1358.0" y2="2167.9" stroke="#000" stroke-width="3.2"/>
<line x1="1357.0" y1="2155.1" x2="2108.9" y2="2155.1" stroke="#8a8a8a" stroke-width="3.2"/>
<line x1="1359.0" y1="2155.1" x2="2108.9" y2="2155.1" stroke="#2a2a2a" stroke-width="3.2" stroke-dasharray="5.6 4.4"/>
<line x1="1345.0" y1="2155.1" x2="1358.0" y2="2155.1" stroke="#000" stroke-width="3.2"/>
<line x1="1357.0" y1="2129.4" x2="2108.9" y2="2129.4" stroke="#8a8a8a" stroke-width="3.2"/>
<line x1="1359.0" y1="2129.4" x2="2108.9" y2="2129.4" stroke="#2a2a2a" stroke-width="3.2" stroke-dasharray="5.6 4.4"/>
<line x1="1345.0" y1="2129.4" x2="1358.0" y2="2129.4" stroke="#000" stroke-width="3.2"/>
<line x1="1357.0" y1="2116.6" x2="2108.9" y2="2116.6" stroke="#8a8a8a" stroke-width="3.2"/>
<line x1="1359.0" y1="2116.6" x2="2108.9" y2="2116.6" stroke="#2a2a2a" stroke-width="3.2" stroke-dasharray="5.6 4.4"/>
<line x1="1345.0" y1="2116.6" x2="1358.0" y2="2116.6" stroke="#000" stroke-width="3.2"/>
<line x1="1357.0" y1="2103.7" x2="2108.9" y2="2103.7" stroke="#8a8a8a" stroke-width="3.2"/>
<line x1="1359.0" y1="2103.7" x2="2108.9" y2="2103.7" stroke="#2a2a2a" stroke-width="3.2" stroke-dasharray="5.6 4.4"/>
<line x1="1345.0" y1="2103.7" x2="1358.0" y2="2103.7" stroke="#000" stroke-width="3.2"/>
<line x1="1357.0" y1="2090.8" x2="2108.9" y2="2090.8" stroke="#8a8a8a" stroke-width="3.2"/>
<line x1="1359.0" y1="2090.8" x2="2108.9" y2="2090.8" stroke="#2a2a2a" stroke-width="3.2" stroke-dasharray="5.6 4.4"/>
<line x1="1345.0" y1="2090.8" x2="1358.0" y2="2090.8" stroke="#000" stroke-width="3.2"/>
<line x1="1357.0" y1="2065.2" x2="2108.9" y2="2065.2" stroke="#8a8a8a" stroke-width="3.2"/>
<line x1="1359.0" y1="2065.2" x2="2108.9" y2="2065.2" stroke="#2a2a2a" stroke-width="3.2" stroke-dasharray="5.6 4.4"/>
<line x1="1345.0" y1="2065.2" x2="1358.0" y2="2065.2" stroke="#000" stroke-width="3.2"/>
<line x1="1357.0" y1="2052.3" x2="2108.9" y2="2052.3" stroke="#8a8a8a" stroke-width="3.2"/>
<line x1="1359.0" y1="2052.3" x2="2108.9" y2="2052.3" stroke="#2a2a2a" stroke-width="3.2" stroke-dasharray="5.6 4.4"/>
<line x1="1345.0" y1="2052.3" x2="1358.0" y2="2052.3" stroke="#000" stroke-width="3.2"/>
<line x1="1357.0" y1="2039.5" x2="2108.9" y2="2039.5" stroke="#8a8a8a" stroke-width="3.2"/>
<line x1="1359.0" y1="2039.5" x2="2108.9" y2="2039.5" stroke="#2a2a2a" stroke-width="3.2" stroke-dasharray="5.6 4.4"/>
<line x1="1345.0" y1="2039.5" x2="1358.0" y2="2039.5" stroke="#000" stroke-width="3.2"/>
<line x1="1357.0" y1="2026.6" x2="2108.9" y2="2026.6" stroke="#8a8a8a" stroke-width="3.2"/>
<line x1="1359.0" y1="2026.6" x2="2108.9" y2="2026.6" stroke="#2a2a2a" stroke-width="3.2" stroke-dasharray="5.6 4.4"/>
<line x1="1345.0" y1="2026.6" x2="1358.0" y2="2026.6" stroke="#000" stroke-width="3.2"/>
<line x1="1357.0" y1="2000.9" x2="2108.9" y2="2000.9" stroke="#8a8a8a" stroke-width="3.2"/>
<line x1="1359.0" y1="2000.9" x2="2108.9" y2="2000.9" stroke="#2a2a2a" stroke-width="3.2" stroke-dasharray="5.6 4.4"/>
<line x1="1345.0" y1="2000.9" x2="1358.0" y2="2000.9" stroke="#000" stroke-width="3.2"/>
<line x1="1357.0" y1="1988.0" x2="2108.9" y2="1988.0" stroke="#8a8a8a" stroke-width="3.2"/>
<line x1="1359.0" y1="1988.0" x2="2108.9" y2="1988.0" stroke="#2a2a2a" stroke-width="3.2" stroke-dasharray="5.6 4.4"/>
<line x1="1345.0" y1="1988.0" x2="1358.0" y2="1988.0" stroke="#000" stroke-width="3.2"/>
<line x1="1357.0" y1="1975.2" x2="2108.9" y2="1975.2" stroke="#8a8a8a" stroke-width="3.2"/>
<line x1="1359.0" y1="1975.2" x2="2108.9" y2="1975.2" stroke="#2a2a2a" stroke-width="3.2" stroke-dasharray="5.6 4.4"/>
<line x1="1345.0" y1="1975.2" x2="1358.0" y2="1975.2" stroke="#000" stroke-width="3.2"/>
<line x1="1357.0" y1="1962.3" x2="2108.9" y2="1962.3" stroke="#8a8a8a" stroke-width="3.2"/>
<line x1="1359.0" y1="1962.3" x2="2108.9" y2="1962.3" stroke="#2a2a2a" stroke-width="3.2" stroke-dasharray="5.6 4.4"/>
<line x1="1345.0" y1="1962.3" x2="1358.0" y2="1962.3" stroke="#000" stroke-width="3.2"/>
<line x1="1357.0" y1="1936.7" x2="2108.9" y2="1936.7" stroke="#8a8a8a" stroke-width="3.2"/>
<line x1="1359.0" y1="1936.7" x2="2108.9" y2="1936.7" stroke="#2a2a2a" stroke-width="3.2" stroke-dasharray="5.6 4.4"/>
<line x1="1345.0" y1="1936.7" x2="1358.0" y2="1936.7" stroke="#000" stroke-width="3.2"/>
<line x1="1357.0" y1="1923.8" x2="2108.9" y2="1923.8" stroke="#8a8a8a" stroke-width="3.2"/>
<line x1="1359.0" y1="1923.8" x2="2108.9" y2="1923.8" stroke="#2a2a2a" stroke-width="3.2" stroke-dasharray="5.6 4.4"/>
<line x1="1345.0" y1="1923.8" x2="1358.0" y2="1923.8" stroke="#000" stroke-width="3.2"/>
<line x1="1357.0" y1="1911.0" x2="2108.9" y2="1911.0" stroke="#8a8a8a" stroke-width="3.2"/>
<line x1="1359.0" y1="1911.0" x2="2108.9" y2="1911.0" stroke="#2a2a2a" stroke-width="3.2" stroke-dasharray="5.6 4.4"/>
<line x1="1345.0" y1="1911.0" x2="1358.0" y2="1911.0" stroke="#000" stroke-width="3.2"/>
<line x1="1357.0" y1="1898.1" x2="2108.9" y2="1898.1" stroke="#8a8a8a" stroke-width="3.2"/>
<line x1="1359.0" y1="1898.1" x2="2108.9" y2="1898.1" stroke="#2a2a2a" stroke-width="3.2" stroke-dasharray="5.6 4.4"/>
<line x1="1345.0" y1="1898.1" x2="1358.0" y2="1898.1" stroke="#000" stroke-width="3.2"/>
<line x1="1357.0" y1="1872.4" x2="2108.9" y2="1872.4" stroke="#8a8a8a" stroke-width="3.2"/>
<line x1="1359.0" y1="1872.4" x2="2108.9" y2="1872.4" stroke="#2a2a2a" stroke-width="3.2" stroke-dasharray="5.6 4.4"/>
<line x1="1345.0" y1="1872.4" x2="1358.0" y2="1872.4" stroke="#000" stroke-width="3.2"/>
<line x1="1357.0" y1="1859.5" x2="2108.9" y2="1859.5" stroke="#8a8a8a" stroke-width="3.2"/>
<line x1="1359.0" y1="1859.5" x2="2108.9" y2="1859.5" stroke="#2a2a2a" stroke-width="3.2" stroke-dasharray="5.6 4.4"/>
<line x1="1345.0" y1="1859.5" x2="1358.0" y2="1859.5" stroke="#000" stroke-width="3.2"/>
<line x1="1357.0" y1="1846.7" x2="2108.9" y2="1846.7" stroke="#8a8a8a" stroke-width="3.2"/>
<line x1="1359.0" y1="1846.7" x2="2108.9" y2="1846.7" stroke="#2a2a2a" stroke-width="3.2" stroke-dasharray="5.6 4.4"/>
<line x1="1345.0" y1="1846.7" x2="1358.0" y2="1846.7" stroke="#000" stroke-width="3.2"/>
<line x1="1357.0" y1="1833.8" x2="2108.9" y2="1833.8" stroke="#8a8a8a" stroke-width="3.2"/>
<line x1="1359.0" y1="1833.8" x2="2108.9" y2="1833.8" stroke="#2a2a2a" stroke-width="3.2" stroke-dasharray="5.6 4.4"/>
<line x1="1345.0" y1="1833.8" x2="1358.0" y2="1833.8" stroke="#000" stroke-width="3.2"/>
<line x1="1357.0" y1="1808.2" x2="2108.9" y2="1808.2" stroke="#8a8a8a" stroke-width="3.2"/>
<line x1="1359.0" y1="1808.2" x2="2108.9" y2="1808.2" stroke="#2a2a2a" stroke-width="3.2" stroke-dasharray="5.6 4.4"/>
<line x1="1345.0" y1="1808.2" x2="1358.0" y2="1808.2" stroke="#000" stroke-width="3.2"/>
<line x1="1357.0" y1="1795.3" x2="2108.9" y2="1795.3" stroke="#8a8a8a" stroke-width="3.2"/>
<line x1="1359.0" y1="1795.3" x2="2108.9" y2="1795.3" stroke="#2a2a2a" stroke-width="3.2" stroke-dasharray="5.6 4.4"/>
<line x1="1345.0" y1="1795.3" x2="1358.0" y2="1795.3" stroke="#000" stroke-width="3.2"/>
<line x1="1357.0" y1="1782.5" x2="2108.9" y2="1782.5" stroke="#8a8a8a" stroke-width="3.2"/>
<line x1="1359.0" y1="1782.5" x2="2108.9" y2="1782.5" stroke="#2a2a2a" stroke-width="3.2" stroke-dasharray="5.6 4.4"/>
<line x1="1345.0" y1="1782.5" x2="1358.0" y2="1782.5" stroke="#000" stroke-width="3.2"/>
<line x1="1357.0" y1="1769.6" x2="2108.9" y2="1769.6" stroke="#8a8a8a" stroke-width="3.2"/>
<line x1="1359.0" y1="1769.6" x2="2108.9" y2="1769.6" stroke="#2a2a2a" stroke-width="3.2" stroke-dasharray="5.6 4.4"/>
<line x1="1345.0" y1="1769.6" x2="1358.0" y2="1769.6" stroke="#000" stroke-width="3.2"/>
<line x1="1357.0" y1="1743.9" x2="2108.9" y2="1743.9" stroke="#8a8a8a" stroke-width="3.2"/>
<line x1="1359.0" y1="1743.9" x2="2108.9" y2="1743.9" stroke="#2a2a2a" stroke-width="3.2" stroke-dasharray="5.6 4.4"/>
<line x1="1345.0" y1="1743.9" x2="1358.0" y2="1743.9" stroke="#000" stroke-width="3.2"/>
<line x1="1357.0" y1="1731.0" x2="2108.9" y2="1731.0" stroke="#8a8a8a" stroke-width="3.2"/>
<line x1="1359.0" y1="1731.0" x2="2108.9" y2="1731.0" stroke="#2a2a2a" stroke-width="3.2" stroke-dasharray="5.6 4.4"/>
<line x1="1345.0" y1="1731.0" x2="1358.0" y2="1731.0" stroke="#000" stroke-width="3.2"/>
<line x1="1357.0" y1="1718.2" x2="2108.9" y2="1718.2" stroke="#8a8a8a" stroke-width="3.2"/>
<line x1="1359.0" y1="1718.2" x2="2108.9" y2="1718.2" stroke="#2a2a2a" stroke-width="3.2" stroke-dasharray="5.6 4.4"/>
<line x1="1345.0" y1="1718.2" x2="1358.0" y2="1718.2" stroke="#000" stroke-width="3.2"/>
<line x1="1357.0" y1="1705.3" x2="2108.9" y2="1705.3" stroke="#8a8a8a" stroke-width="3.2"/>
<line x1="1359.0" y1="1705.3" x2="2108.9" y2="1705.3" stroke="#2a2a2a" stroke-width="3.2" stroke-dasharray="5.6 4.4"/>
<line x1="1345.0" y1="1705.3" x2="1358.0" y2="1705.3" stroke="#000" stroke-width="3.2"/>
<line x1="1357.0" y1="1679.7" x2="2108.9" y2="1679.7" stroke="#8a8a8a" stroke-width="3.2"/>
<line x1="1359.0" y1="1679.7" x2="2108.9" y2="1679.7" stroke="#2a2a2a" stroke-width="3.2" stroke-dasharray="5.6 4.4"/>
<line x1="1345.0" y1="1679.7" x2="1358.0" y2="1679.7" stroke="#000" stroke-width="3.2"/>
<line x1="1357.0" y1="1666.8" x2="2108.9" y2="1666.8" stroke="#8a8a8a" stroke-width="3.2"/>
<line x1="1359.0" y1="1666.8" x2="2108.9" y2="1666.8" stroke="#2a2a2a" stroke-width="3.2" stroke-dasharray="5.6 4.4"/>
<line x1="1345.0" y1="1666.8" x2="1358.0" y2="1666.8" stroke="#000" stroke-width="3.2"/>
<line x1="1357.0" y1="1654.0" x2="2108.9" y2="1654.0" stroke="#8a8a8a" stroke-width="3.2"/>
<line x1="1359.0" y1="1654.0" x2="2108.9" y2="1654.0" stroke="#2a2a2a" stroke-width="3.2" stroke-dasharray="5.6 4.4"/>
<line x1="1345.0" y1="1654.0" x2="1358.0" y2="1654.0" stroke="#000" stroke-width="3.2"/>
<line x1="1357.0" y1="1641.1" x2="2108.9" y2="1641.1" stroke="#8a8a8a" stroke-width="3.2"/>
<line x1="1359.0" y1="1641.1" x2="2108.9" y2="1641.1" stroke="#2a2a2a" stroke-width="3.2" stroke-dasharray="5.6 4.4"/>
<line x1="1345.0" y1="1641.1" x2="1358.0" y2="1641.1" stroke="#000" stroke-width="3.2"/>
<line x1="1357.0" y1="1615.4" x2="2108.9" y2="1615.4" stroke="#8a8a8a" stroke-width="3.2"/>
<line x1="1359.0" y1="1615.4" x2="2108.9" y2="1615.4" stroke="#2a2a2a" stroke-width="3.2" stroke-dasharray="5.6 4.4"/>
<line x1="1345.0" y1="1615.4" x2="1358.0" y2="1615.4" stroke="#000" stroke-width="3.2"/>
<line x1="1357.0" y1="1602.5" x2="2108.9" y2="1602.5" stroke="#8a8a8a" stroke-width="3.2"/>
<line x1="1359.0" y1="1602.5" x2="2108.9" y2="1602.5" stroke="#2a2a2a" stroke-width="3.2" stroke-dasharray="5.6 4.4"/>
<line x1="1345.0" y1="1602.5" x2="1358.0" y2="1602.5" stroke="#000" stroke-width="3.2"/>
<line x1="1357.0" y1="1589.7" x2="2108.9" y2="1589.7" stroke="#8a8a8a" stroke-width="3.2"/>
<line x1="1359.0" y1="1589.7" x2="2108.9" y2="1589.7" stroke="#2a2a2a" stroke-width="3.2" stroke-dasharray="5.6 4.4"/>
<line x1="1345.0" y1="1589.7" x2="1358.0" y2="1589.7" stroke="#000" stroke-width="3.2"/>
<line x1="1357.0" y1="1576.8" x2="2108.9" y2="1576.8" stroke="#8a8a8a" stroke-width="3.2"/>
<line x1="1359.0" y1="1576.8" x2="2108.9" y2="1576.8" stroke="#2a2a2a" stroke-width="3.2" stroke-dasharray="5.6 4.4"/>
<line x1="1345.0" y1="1576.8" x2="1358.0" y2="1576.8" stroke="#000" stroke-width="3.2"/>
<line x1="1429.9" y1="1564.0" x2="1429.9" y2="2214.5" stroke="#111" stroke-width="3.3"/>
<line x1="1473.7" y1="1564.0" x2="1473.7" y2="2214.5" stroke="#111" stroke-width="3.3"/>
<line x1="1504.8" y1="1564.0" x2="1504.8" y2="2214.5" stroke="#111" stroke-width="3.3"/>
<line x1="1528.9" y1="1564.0" x2="1528.9" y2="2214.5" stroke="#111" stroke-width="3.3"/>
<line x1="1548.6" y1="1564.0" x2="1548.6" y2="2214.5" stroke="#111" stroke-width="3.3"/>
<line x1="1565.3" y1="1564.0" x2="1565.3" y2="2214.5" stroke="#111" stroke-width="3.3"/>
<line x1="1579.7" y1="1564.0" x2="1579.7" y2="2214.5" stroke="#111" stroke-width="3.3"/>
<line x1="1592.4" y1="1564.0" x2="1592.4" y2="2214.5" stroke="#111" stroke-width="3.3"/>
<line x1="1603.8" y1="1564.0" x2="1603.8" y2="2214.5" stroke="#111" stroke-width="3.3"/>
<line x1="1679.8" y1="1564.0" x2="1679.8" y2="2214.5" stroke="#111" stroke-width="3.3"/>
<line x1="1724.3" y1="1564.0" x2="1724.3" y2="2214.5" stroke="#111" stroke-width="3.3"/>
<line x1="1755.8" y1="1564.0" x2="1755.8" y2="2214.5" stroke="#111" stroke-width="3.3"/>
<line x1="1780.3" y1="1564.0" x2="1780.3" y2="2214.5" stroke="#111" stroke-width="3.3"/>
<line x1="1800.3" y1="1564.0" x2="1800.3" y2="2214.5" stroke="#111" stroke-width="3.3"/>
<line x1="1817.2" y1="1564.0" x2="1817.2" y2="2214.5" stroke="#111" stroke-width="3.3"/>
<line x1="1831.8" y1="1564.0" x2="1831.8" y2="2214.5" stroke="#111" stroke-width="3.3"/>
<line x1="1844.7" y1="1564.0" x2="1844.7" y2="2214.5" stroke="#111" stroke-width="3.3"/>
<line x1="1856.3" y1="1564.0" x2="1856.3" y2="2214.5" stroke="#111" stroke-width="3.3"/>
<line x1="1932.3" y1="1564.0" x2="1932.3" y2="2214.5" stroke="#111" stroke-width="3.3"/>
<line x1="1976.8" y1="1564.0" x2="1976.8" y2="2214.5" stroke="#111" stroke-width="3.3"/>
<line x1="2008.4" y1="1564.0" x2="2008.4" y2="2214.5" stroke="#111" stroke-width="3.3"/>
<line x1="2032.9" y1="1564.0" x2="2032.9" y2="2214.5" stroke="#111" stroke-width="3.3"/>
<line x1="2052.9" y1="1564.0" x2="2052.9" y2="2214.5" stroke="#111" stroke-width="3.3"/>
<line x1="2069.8" y1="1564.0" x2="2069.8" y2="2214.5" stroke="#111" stroke-width="3.3"/>
<line x1="2084.4" y1="1564.0" x2="2084.4" y2="2214.5" stroke="#111" stroke-width="3.3"/>
<line x1="2097.3" y1="1564.0" x2="2097.3" y2="2214.5" stroke="#111" stroke-width="3.3"/>
<line x1="1342.0" y1="2142.2" x2="2108.9" y2="2142.2" stroke="#111" stroke-width="3.2"/>
<line x1="1342.0" y1="2078.0" x2="2108.9" y2="2078.0" stroke="#111" stroke-width="3.2"/>
<line x1="1342.0" y1="2013.8" x2="2108.9" y2="2013.8" stroke="#111" stroke-width="3.2"/>
<line x1="1342.0" y1="1949.5" x2="2108.9" y2="1949.5" stroke="#111" stroke-width="3.2"/>
<line x1="1342.0" y1="1885.2" x2="2108.9" y2="1885.2" stroke="#111" stroke-width="3.2"/>
<line x1="1342.0" y1="1821.0" x2="2108.9" y2="1821.0" stroke="#111" stroke-width="3.2"/>
<line x1="1342.0" y1="1756.8" x2="2108.9" y2="1756.8" stroke="#111" stroke-width="3.2"/>
<line x1="1342.0" y1="1692.5" x2="2108.9" y2="1692.5" stroke="#111" stroke-width="3.2"/>
<line x1="1342.0" y1="1628.2" x2="2108.9" y2="1628.2" stroke="#111" stroke-width="3.2"/>
<line x1="1355.0" y1="1564.0" x2="2108.9" y2="1564.0" stroke="#8c8c8c" stroke-width="2.6"/>
<line x1="2108.9" y1="1564.0" x2="2108.9" y2="2206.5" stroke="#8c8c8c" stroke-width="2.6"/>
<line x1="1342.0" y1="1564.0" x2="1365.0" y2="1564.0" stroke="#000" stroke-width="3.2"/>
<line x1="1341.0" y1="2206.5" x2="2108.9" y2="2206.5" stroke="#111" stroke-width="3.4"/>
<line x1="1355.0" y1="1564.0" x2="1355.0" y2="2216.5" stroke="#000" stroke-width="3.4"/>
<path d="M1428.7,2205.6 C1447.2,2203.9 1517.0,2198.1 1539.9,2195.2 C1562.8,2192.3 1555.1,2192.0 1566.0,2188.2 C1576.9,2184.4 1590.4,2185.2 1605.2,2172.6 C1620.0,2160.0 1642.0,2134.2 1654.6,2112.8 C1667.2,2091.4 1668.1,2098.6 1680.7,2044.0 C1693.3,1989.4 1717.4,1848.4 1730.0,1785.0 C1742.6,1721.6 1743.6,1695.6 1756.1,1663.4 C1768.6,1631.2 1792.5,1607.3 1805.0,1592.1 C1817.5,1576.8 1814.4,1576.9 1831.4,1571.9 C1848.5,1566.9 1883.2,1563.9 1907.3,1562.3 C1931.4,1560.7 1964.5,1562.3 1975.9,1562.3" fill="none" stroke="#000" stroke-width="8.4" stroke-linejoin="round" stroke-linecap="round"/>
<circle cx="1428.7" cy="2205.6" r="10" fill="#ff0000"/>
<circle cx="1539.9" cy="2195.2" r="10" fill="#ff0000"/>
<circle cx="1566.0" cy="2188.2" r="10" fill="#ff0000"/>
<circle cx="1605.2" cy="2172.6" r="10" fill="#ff0000"/>
<circle cx="1654.6" cy="2112.8" r="10" fill="#ff0000"/>
<circle cx="1680.7" cy="2044.0" r="10" fill="#ff0000"/>
<circle cx="1730.0" cy="1785.0" r="10" fill="#ff0000"/>
<circle cx="1756.1" cy="1663.4" r="10" fill="#ff0000"/>
<circle cx="1805.0" cy="1592.1" r="10" fill="#ff0000"/>
<circle cx="1831.4" cy="1571.9" r="10" fill="#ff0000"/>
<circle cx="1907.3" cy="1562.3" r="10" fill="#ff0000"/>
<circle cx="1975.9" cy="1562.3" r="10" fill="#ff0000"/>
<circle cx="1667.8" cy="2087.4" r="10" fill="#ffff00"/>
<circle cx="1743.2" cy="1716.6" r="10" fill="#ffff00"/>
<circle cx="1713.7" cy="1884.1" r="10" fill="#66ffff"/>
<g font-family='"Liberation Serif", "Times New Roman", serif' fill="#000" stroke="#000" stroke-width="0.8">
<text transform="translate(1323.0,2217.0) scale(0.965,1.09)" font-size="40" text-anchor="end" font-weight="normal" >0</text>
<text transform="translate(1323.0,2152.8) scale(0.965,1.09)" font-size="40" text-anchor="end" font-weight="normal" >10</text>
<text transform="translate(1323.0,2088.5) scale(0.965,1.09)" font-size="40" text-anchor="end" font-weight="normal" >20</text>
<text transform="translate(1323.0,2024.2) scale(0.965,1.09)" font-size="40" text-anchor="end" font-weight="normal" >30</text>
<text transform="translate(1323.0,1960.0) scale(0.965,1.09)" font-size="40" text-anchor="end" font-weight="normal" >40</text>
<text transform="translate(1323.0,1895.8) scale(0.965,1.09)" font-size="40" text-anchor="end" font-weight="normal" >50</text>
<text transform="translate(1323.0,1831.5) scale(0.965,1.09)" font-size="40" text-anchor="end" font-weight="normal" >60</text>
<text transform="translate(1323.0,1767.2) scale(0.965,1.09)" font-size="40" text-anchor="end" font-weight="normal" >70</text>
<text transform="translate(1323.0,1703.0) scale(0.965,1.09)" font-size="40" text-anchor="end" font-weight="normal" >80</text>
<text transform="translate(1323.0,1638.8) scale(0.965,1.09)" font-size="40" text-anchor="end" font-weight="normal" >90</text>
<text transform="translate(1323.0,1574.5) scale(0.965,1.09)" font-size="40" text-anchor="end" font-weight="normal" >100</text>
<text transform="translate(1356.0,2260.5) scale(0.965,1.09)" font-size="40" text-anchor="middle" font-weight="normal" >10</text>
<text transform="translate(1604.8,2260.5) scale(0.965,1.09)" font-size="40" text-anchor="middle" font-weight="normal" >100</text>
<text transform="translate(1857.3,2260.5) scale(0.965,1.09)" font-size="40" text-anchor="middle" font-weight="normal" >1000</text>
<text transform="translate(2090.0,2260.5) scale(0.965,1.09)" font-size="40" text-anchor="middle" font-weight="normal" >10,000</text>
<text transform="translate(1746.5,1523.2) scale(0.995,1.0)" font-size="48" text-anchor="middle" font-weight="normal" >DIN curve of totals</text>
<text transform="translate(1991.0,2309.5) scale(0.995,1.0)" font-size="48" text-anchor="end" font-weight="normal" >Sieve mesh clearance</text>
<text x="0" y="0" font-size="48" text-anchor="middle" transform="translate(1240.5,1909) rotate(-90) scale(0.995,1.0)">Sum of sieves converted, %</text>
</g>
</g>
</svg>
</body></html>
